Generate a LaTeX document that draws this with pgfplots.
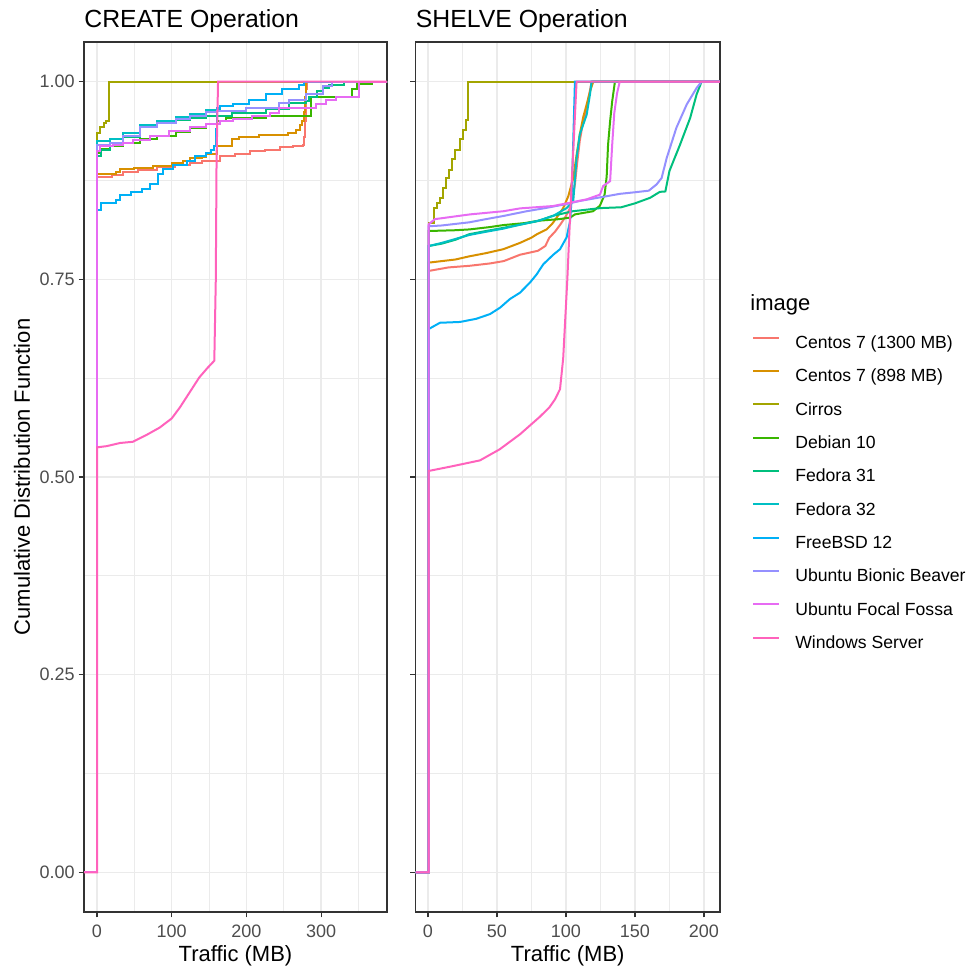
\documentclass[border=0pt]{standalone}
\usepackage{fontspec}
\setmainfont{Liberation Sans}
\usepackage{pgfplots}
\pgfplotsset{compat=1.18}

\definecolor{cA}{HTML}{F8766D}
\definecolor{cB}{HTML}{D89000}
\definecolor{cC}{HTML}{A3A500}
\definecolor{cD}{HTML}{39B600}
\definecolor{cE}{HTML}{00BF7D}
\definecolor{cF}{HTML}{00BFC4}
\definecolor{cG}{HTML}{00B0F6}
\definecolor{cH}{HTML}{9590FF}
\definecolor{cI}{HTML}{E76BF3}
\definecolor{cJ}{HTML}{FF62BC}
\definecolor{gridc}{HTML}{EBEBEB}
\definecolor{framec}{HTML}{333333}
\definecolor{ticktext}{HTML}{4D4D4D}

\pgfplotsset{
  facet/.style={
    scale only axis, height=435pt,
    ymin=-0.05, ymax=1.05,
    ytick={0,0.25,0.5,0.75,1},
    minor ytick={0.125,0.375,0.625,0.875},
    grid=both,
    major grid style={draw=gridc, line width=0.75pt},
    minor grid style={draw=gridc, line width=0.4pt},
    axis line style={draw=framec, line width=0.6pt},
    tick align=outside, tick pos=left,
    major tick style={draw=framec, line width=0.6pt},
    major tick length=2.75pt, minor tick length=0pt,
    tick label style={font=\fontsize{9}{10}\selectfont, text=ticktext},
    yticklabel style={inner sep=1.75pt},
    /pgf/number format/assume math mode=true,
    every axis title/.style={at={(0,1)}, anchor=base west, yshift=7.3pt,
      inner sep=0pt, font=\fontsize{12.4}{14}\selectfont},
    xlabel style={font=\fontsize{11}{12}\selectfont,
      at={(axis description cs:0.5,-0.05)}, anchor=center},
    ylabel style={font=\fontsize{11}{12}\selectfont},
    every axis plot/.append style={line width=1pt},
    no markers,
  }
}

\begin{document}
\begin{tikzpicture}
\path[use as bounding box] (0,0) rectangle (488pt,484.5pt);

% ---- CREATE panel
\begin{axis}[facet, at={(42pt,28.5pt)}, anchor=south west, width=151.5pt,
  xmin=-17.3, xmax=388,
  xtick={0,100,200,300}, minor xtick={50,150,250,350},
  yticklabels={0.00,0.25,0.50,0.75,1.00},
  title={CREATE Operation}, xlabel={Traffic (MB)},
  ylabel={Cumulative Distribution Function},
  ylabel style={at={(axis description cs:-0.2046,0.5)}, anchor=center},
]
% Centos 7 (1300 MB)
\addplot[cA, const plot] coordinates {(-50,0) (0.3,0.879) (20,0.882) (35,0.885) (55,0.888) (80,0.892) (105,0.895) (124,0.897) (140,0.900) (164,0.906) (185,0.909) (205,0.912) (225,0.914) (245,0.917) (262,0.919) (275,0.920) (277,0.93) (278,0.95) (279,0.97) (280,0.99) (281,1) (500,1)};
% Centos 7 (898 MB)
\addplot[cB, const plot] coordinates {(-50,0) (0.3,0.8826) (25,0.885) (31,0.889) (50,0.891) (75,0.893) (101,0.897) (115,0.900) (124,0.903) (140,0.905) (146,0.908) (160,0.918) (180,0.927) (190,0.930) (217,0.933) (255,0.935) (266,0.939) (271,0.945) (274,0.95) (277,0.962) (278,0.98) (280,1) (500,1)};
% Cirros
\addplot[cC, const plot] coordinates {(-50,0) (0.3,0.935) (4,0.942) (10,0.947) (12,0.95) (16.5,1) (500,1)};
% Debian 10
\addplot[cD, const plot] coordinates {(-50,0) (0.3,0.91) (5,0.915) (17,0.918) (35,0.9225) (57,0.927) (80,0.931) (106,0.936) (124,0.9415) (146,0.946) (160,0.950) (173,0.954) (226,0.956) (270,0.957) (286,0.981) (341,0.99) (348,0.997) (368,1) (500,1)};
% Fedora 31
\addplot[cE, const plot] coordinates {(-50,0) (0.3,0.906) (6,0.914) (17,0.9225) (35,0.93) (57,0.942) (80,0.947) (106,0.951) (124,0.954) (146,0.957) (180,0.960) (226,0.965) (257,0.973) (280,0.975) (284,0.981) (295,0.988) (302,0.992) (311,0.996) (330,1) (500,1)};
% Fedora 32
\addplot[cF, const plot] coordinates {(-50,0) (0.3,0.925) (17,0.927) (35,0.935) (57,0.9456) (80,0.950) (106,0.955) (124,0.959) (146,0.9646) (164,0.969) (182,0.971) (204,0.977) (226,0.984) (248,0.990) (270,0.995) (277,1) (500,1)};
% FreeBSD 12
\addplot[cG, const plot] coordinates {(-50,0) (0.3,0.838) (6,0.846) (25,0.850) (31,0.857) (46,0.860) (60,0.864) (71,0.871) (82,0.8826) (88,0.889) (102,0.894) (120,0.899) (131,0.906) (146,0.910) (152,0.914) (157,0.918) (159,0.94) (160,0.966) (164,0.969) (182,0.971) (204,0.977) (226,0.984) (248,0.990) (270,0.995) (277,1) (500,1)};
% Ubuntu Bionic Beaver
\addplot[cH, const plot] coordinates {(-50,0) (0.3,0.920) (17,0.922) (35,0.931) (57,0.943) (80,0.948) (106,0.953) (124,0.957) (146,0.962) (160,0.9625) (200,0.967) (244,0.973) (257,0.977) (280,0.984) (302,0.994) (315,1) (500,1)};
% Ubuntu Focal Fossa
\addplot[cI, const plot] coordinates {(-50,0) (0.3,0.912) (4,0.918) (22,0.920) (35,0.922) (48,0.9255) (71,0.931) (97,0.9375) (124,0.943) (146,0.946) (164,0.950) (182,0.952) (208,0.956) (231,0.960) (244,0.967) (293,0.972) (306,0.977) (320,0.981) (350,1) (500,1)};
% Windows Server
\addplot[cJ] coordinates {(-50,0) (0.3,0) (0.3,0.5375) (13,0.539) (31,0.543) (48,0.5445) (66,0.553) (84,0.5625) (100,0.574) (111,0.588) (124,0.607) (137,0.626) (148,0.638) (157,0.647) (159,0.75) (160,0.9) (162,1) (500,1)};
\end{axis}

% ---- SHELVE panel
\begin{axis}[facet, at={(207.75pt,28.5pt)}, anchor=south west, width=152.25pt,
  xmin=-9, xmax=211.6,
  xtick={0,50,100,150,200}, minor xtick={25,75,125,175},
  yticklabels={},
  title={SHELVE Operation}, xlabel={Traffic (MB)},
  legend style={at={(axis description cs:1.105,0.4805)}, anchor=west,
    draw=none, fill=none, inner sep=0pt, row sep=8.17pt,
    font=\fontsize{8.8}{10}\selectfont,
    nodes={inner sep=0pt, text height=6.5pt, text depth=2pt},
    /tikz/every odd column/.append style={column sep=7.5pt}},
  legend cell align=left,
  legend image code/.code={\draw[#1, line width=1pt] (0pt,3.2pt) -- (13pt,3.2pt);},
]
\addplot[cA] coordinates {(-50,0) (0.5,0) (0.5,0.7605) (15,0.765) (30,0.767) (45,0.770) (55,0.773) (66.7,0.781) (79.7,0.786) (85,0.792) (88,0.8026) (92,0.81) (96,0.8194) (100,0.83) (103,0.840) (105,0.855) (106.5,0.870) (108,0.895) (110,0.925) (112,0.945) (115,0.967) (117,0.985) (118.6,1) (500,1)};
\addlegendentry{Centos 7 (1300 MB)}
\addplot[cB] coordinates {(-50,0) (0.5,0) (0.5,0.771) (20,0.775) (30,0.779) (42,0.783) (54.6,0.788) (66.7,0.796) (75,0.8026) (79,0.807) (86,0.813) (90,0.82) (93.3,0.828) (98,0.840) (101.7,0.855) (105.3,0.878) (107.5,0.905) (110,0.933) (112.5,0.955) (115,0.971) (117.5,0.988) (119.8,1) (500,1)};
\addlegendentry{Centos 7 (898 MB)}
\addplot[cC, const plot] coordinates {(-50,0) (0.8,0.8215) (4.3,0.840) (6.5,0.846) (8.7,0.853) (11.1,0.866) (13,0.878) (15,0.888) (17.1,0.9015) (19.5,0.914) (23.2,0.927) (25.6,0.939) (27.5,0.951) (29.2,1) (500,1)};
\addlegendentry{Cirros}
\addplot[cD] coordinates {(-50,0) (0.5,0) (0.5,0.811) (20,0.812) (30,0.813) (45,0.816) (54.6,0.8185) (70,0.821) (80,0.824) (95,0.826) (103,0.828) (106.5,0.832) (119.6,0.836) (124.6,0.843) (128,0.857) (129.5,0.88) (130.5,0.92) (132,0.95) (133.5,0.975) (135.5,1) (500,1)};
\addlegendentry{Debian 10}
\addplot[cE] coordinates {(-50,0) (0.5,0) (0.5,0.792) (10,0.795) (20,0.800) (30,0.807) (42,0.811) (54.6,0.815) (66.7,0.819) (79.7,0.8236) (90,0.83) (105,0.836) (125,0.840) (140,0.841) (150,0.846) (161,0.853) (168,0.8605) (172,0.861) (175,0.887) (182.6,0.920) (190,0.954) (194.7,0.984) (198.3,1) (500,1)};
\addlegendentry{Fedora 31}
\addplot[cF] coordinates {(-50,0) (0.5,0) (0.5,0.792) (10,0.796) (20,0.801) (30,0.806) (42,0.810) (54.6,0.814) (66.7,0.819) (80,0.824) (90.6,0.830) (100.5,0.840) (105.3,0.849) (107.7,0.9034) (110,0.933) (115,0.958) (117.4,0.9836) (118.6,1) (500,1)};
\addlegendentry{Fedora 32}
\addplot[cG] coordinates {(-50,0) (0.5,0) (0.5,0.687) (8.7,0.695) (23.2,0.696) (35,0.700) (45,0.706) (52.2,0.714) (59.4,0.725) (66.7,0.733) (74,0.746) (78.7,0.756) (83.6,0.769) (90.8,0.781) (95.7,0.788) (100.5,0.803) (103,0.8236) (104,0.849) (105.3,0.925) (106.5,1) (500,1)};
\addlegendentry{FreeBSD 12}
\addplot[cH] coordinates {(-50,0) (0.5,0) (0.5,0.817) (10,0.818) (30,0.822) (42,0.826) (54.6,0.830) (71.5,0.836) (85,0.840) (100,0.845) (110,0.849) (129.5,0.855) (139,0.858) (150,0.860) (160,0.862) (165.7,0.870) (169.3,0.878) (173,0.9034) (180,0.9415) (187.5,0.971) (194.7,0.992) (198.3,1) (500,1)};
\addlegendentry{Ubuntu Bionic Beaver}
\addplot[cI] coordinates {(-50,0) (0.5,0) (0.5,0.8194) (5,0.826) (30.4,0.832) (54.6,0.836) (66.7,0.8396) (90.6,0.8426) (103,0.8468) (115,0.851) (124.6,0.857) (127,0.868) (132,0.874) (133.5,0.92) (135,0.96) (137,0.985) (139,1) (500,1)};
\addlegendentry{Ubuntu Focal Fossa}
\addplot[cJ] coordinates {(-50,0) (0.5,0) (0.5,0.5076) (16,0.513) (37.7,0.521) (52,0.535) (66.7,0.554) (81,0.576) (88,0.588) (92,0.598) (95.7,0.611) (98,0.65) (101,0.75) (103,0.83) (105.5,0.92) (107.7,1) (500,1)};
\addlegendentry{Windows Server}
\end{axis}

\node[anchor=base west, inner sep=0pt, font=\fontsize{11}{12}\selectfont] at (375pt,329pt) {image};
\end{tikzpicture}
\end{document}
